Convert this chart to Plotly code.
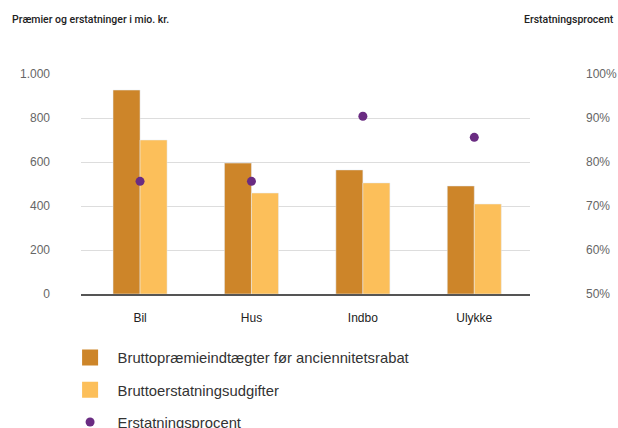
import plotly.graph_objects as go

categories = ["Bil", "Hus", "Indbo", "Ulykke"]
praemie = [927, 595, 564, 491]
erstatning = [700, 459, 505, 409]
procent = [75.6, 75.6, 90.4, 85.6]

left_tickvals = [0, 200, 400, 600, 800, 1000]
left_ticktext = ["0", "200", "400", "600", "800", "1.000"]
right_tickvals = [50, 60, 70, 80, 90, 100]
right_ticktext = ["50%", "60%", "70%", "80%", "90%", "100%"]

names = ["Bruttopræmieindtægter før anciennitetsrabat",
         "Bruttoerstatningsudgifter",
         "Erstatningsprocent"]

C_DARK = "#CD8529"
C_LIGHT = "#FCBF5A"
C_DOT = "#6A2C82"
FONT = "Liberation Sans"

fig = go.Figure()
fig.add_trace(go.Bar(x=categories, y=praemie, marker_color=C_DARK, showlegend=False,
                     hoverinfo="y"))
fig.add_trace(go.Bar(x=categories, y=erstatning, marker_color=C_LIGHT, showlegend=False,
                     hoverinfo="y"))
fig.add_trace(go.Scatter(x=categories, y=procent, yaxis="y2", mode="markers",
                         marker=dict(color=C_DOT, size=9), showlegend=False))

# legend proxies
fig.add_trace(go.Scatter(x=[None], y=[None], mode="markers", name=names[0], legendgroup="a",
                         marker=dict(symbol="square", size=16, color=C_DARK)))
fig.add_trace(go.Scatter(x=[None], y=[None], mode="markers", name=names[1], legendgroup="b",
                         marker=dict(symbol="square", size=16, color=C_LIGHT)))
fig.add_trace(go.Scatter(x=[None], y=[None], mode="markers", name=names[2], legendgroup="c",
                         marker=dict(symbol="circle", size=9, color=C_DOT)))

fig.update_layout(
    width=618, height=428,
    margin=dict(l=81, r=88, t=74, b=134, autoexpand=False),
    paper_bgcolor="white", plot_bgcolor="white",
    font=dict(family=FONT, size=12, color="#333"),
    barmode="group", bargap=0.515, bargroupgap=0,
    xaxis=dict(range=[-0.53, 3.5], showgrid=False, showline=True,
               linecolor="#555", linewidth=2, ticks="", ticklabelstandoff=12,
               tickfont=dict(size=12, color="#222"), tickangle=0, fixedrange=True),
    yaxis=dict(range=[0, 1000], tickvals=left_tickvals, ticktext=left_ticktext,
               showgrid=True, gridcolor="#DDDDDD", gridwidth=1, zeroline=False,
               ticks="", ticklabelstandoff=30, tickfont=dict(size=12, color="#666")),
    yaxis2=dict(range=[50, 100], tickvals=right_tickvals, ticktext=right_ticktext,
                overlaying="y", side="right", showgrid=False, zeroline=False, showline=False,
                ticks="", ticklabelstandoff=55, tickfont=dict(size=12, color="#666")),
    legend=dict(orientation="v", x=-0.041, y=-0.2154,
                xanchor="left", yanchor="top", itemwidth=45, tracegroupgap=10,
                font=dict(size=14.8, color="#333"), itemclick=False),
    annotations=[
        dict(text="Præmier og erstatninger i mio. kr.", xref="paper", yref="paper",
             x=-71 / 449, y=1 + 55 / 220, xanchor="left", yanchor="middle", showarrow=False,
             font=dict(family="Roboto", size=10.5, color="#222", weight=500)),
        dict(text="Erstatningsprocent", xref="paper", yref="paper",
             x=1 + 86 / 449, y=1 + 55 / 220, xanchor="right", yanchor="middle", showarrow=False,
             font=dict(family="Roboto", size=10.5, color="#222", weight=500)),
    ],
)

fig.write_html(
    "out.html",
    config={"displayModeBar": False},
    post_script="document.body.style.margin='0';"
                "document.documentElement.style.overflow='hidden';",
)
